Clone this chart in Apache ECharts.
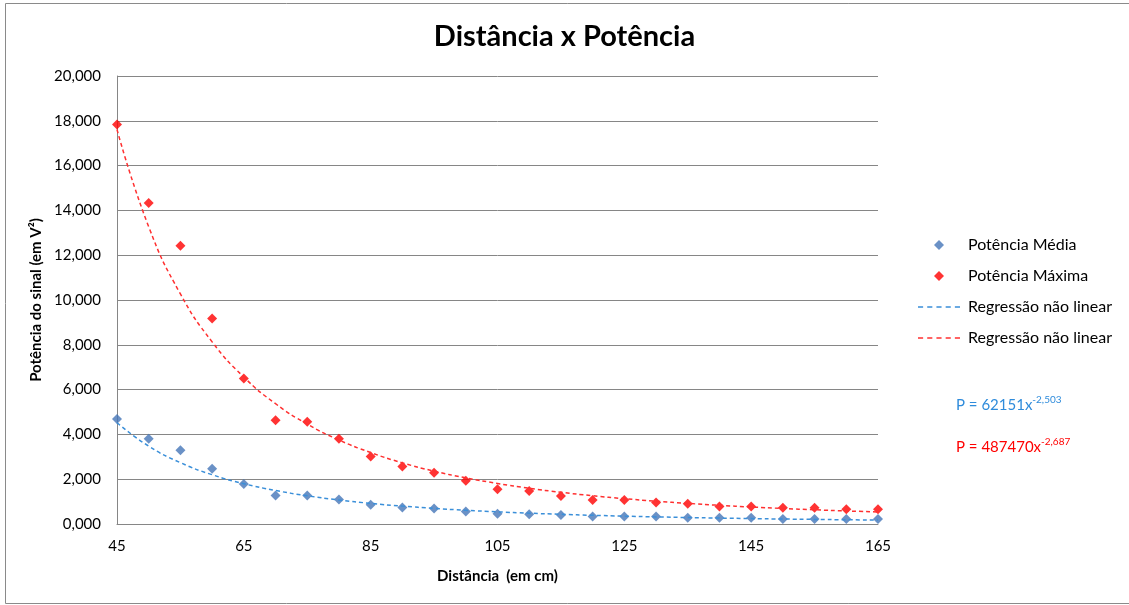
<!DOCTYPE html>
<html>
<head>
<meta charset="utf-8">
<script src="https://cdn.jsdelivr.net/npm/echarts@6/dist/echarts.min.js"></script>
<style>html,body{margin:0;padding:0;background:#fff;}#c{width:1129px;height:605px;}</style>
</head>
<body>
<div id="c"></div>
<script>
// Data
const distances = [45,50,55,60,65,70,75,80,85,90,95,100,105,110,115,120,125,130,135,140,145,150,155,160,165];
const potenciaMedia = [4690,3810,3290,2470,1790,1270,1270,1090,860,740,690,560,460,440,400,340,340,340,280,280,280,220,220,220,220];
const potenciaMaxima = [17830,14330,12420,9170,6490,4630,4570,3810,3010,2570,2290,1930,1550,1470,1250,1070,1070,960,900,780,780,720,720,660,660];
// Trend-line values as drawn (P = 62151x^-2,503 and P = 487470x^-2,687)
const trendMedia = [4520,3475,2740,2200,1800,1497,1259,1072,921,798,697,613,542,483,432,388,351,318,289,264,242,222,205,189,175];
const trendMaxima = [17610,13270,10270,8130,6560,5370,4460,3750,3190,2730,2360,2060,1810,1595,1415,1262,1131,1018,920,834,759,693,635,583,537];
const yTicks = {min:0, max:20000, interval:2000};
const xTicks = {min:45, max:165, interval:20};

const pair = (xs, ys) => xs.map((x,i)=>[x, ys[i]]);
const font = 'Lato, "Open Sans", sans-serif';
const diamondIcon = 'path://M5,0L10,5L5,10L0,5Z';
const dashIcon = 'path://M0,0h5v1.5h-5zM9,0h5v1.5h-5zM18,0h5v1.5h-5zM27,0h5v1.5h-5zM36,0h5v1.5h-5z';

const chart = echarts.init(document.getElementById('c'), null, {renderer:'canvas'});
chart.setOption({
  backgroundColor:'#ffffff',
  animation:false,
  textStyle:{fontFamily:font},
  title:{
    text:'Distância x Potência',
    left:'center', top:17,
    textStyle:{fontFamily:font, fontSize:29, fontWeight:'bold', color:'#000'}
  },
  grid:{left:117, right:251, top:76, bottom:81, containLabel:false},
  xAxis:{
    type:'value', min:xTicks.min, max:xTicks.max, interval:xTicks.interval,
    name:'Distância  (em cm)', nameLocation:'middle', nameGap:45,
    nameTextStyle:{fontFamily:font, fontSize:15, fontWeight:'bold', color:'#000'},
    axisLine:{show:true, lineStyle:{color:'#868686', width:1}},
    axisTick:{show:false},
    axisLabel:{margin:15, fontSize:15, color:'#000', fontFamily:font},
    splitLine:{show:false}
  },
  yAxis:{
    type:'value', min:yTicks.min, max:yTicks.max, interval:yTicks.interval,
    name:'Potência do sinal (em V²)', nameLocation:'middle', nameGap:67,
    nameTextStyle:{fontFamily:font, fontSize:15, fontWeight:'bold', color:'#000'},
    axisLine:{show:true, lineStyle:{color:'#868686', width:1}},
    axisTick:{show:false},
    axisLabel:{margin:16, fontSize:15, color:'#000', fontFamily:font,
      formatter:v=>(v/1000).toFixed(3).replace('.',',')},
    splitLine:{show:true, lineStyle:{color:'#868686', width:1}}
  },
  legend:{
    orient:'vertical', left:913, top:232, itemWidth:42, itemHeight:10, itemGap:15,
    symbolKeepAspect:true,
    textStyle:{fontFamily:font, fontSize:16, color:'#000', padding:[0,0,0,3]},
    formatter:n=>n.trim(),
    data:[
      {name:'Potência Média', icon:diamondIcon},
      {name:'Potência Máxima', icon:diamondIcon},
      {name:'Regressão não linear', icon:dashIcon},
      {name:'Regressão não linear ', icon:dashIcon}
    ]
  },
  series:[
    {name:'Potência Média', type:'scatter', symbol:'diamond', symbolSize:10,
     itemStyle:{color:'#4576B8'}, data:pair(distances, potenciaMedia), z:3},
    {name:'Potência Máxima', type:'scatter', symbol:'diamond', symbolSize:10,
     itemStyle:{color:'#FF0000'}, data:pair(distances, potenciaMaxima), z:3},
    {name:'Regressão não linear', type:'line', smooth:0.5, symbol:'none',
     lineStyle:{color:'#3A8FD9', width:1.5, type:[4,3]}, itemStyle:{color:'#3A8FD9'},
     data:pair(distances, trendMedia), z:4},
    {name:'Regressão não linear ', type:'line', smooth:0.5, symbol:'none',
     lineStyle:{color:'#FF3030', width:1.5, type:[4,3]}, itemStyle:{color:'#FF3030'},
     data:pair(distances, trendMaxima), z:4}
  ],
  graphic:[
    {type:'rect', shape:{x:5.5, y:3.5, width:1130, height:600}, style:{fill:'none', stroke:'#8a8a8a', lineWidth:1}, silent:true, z:-10},
    {type:'text', left:956, top:395, style:{
      text:'{a|P = 62151x}{s|-2,503}',
      rich:{a:{fontFamily:font, fontSize:15, fill:'#2E8BDB'}, s:{fontFamily:font, fontSize:10, fill:'#2E8BDB', padding:[0,0,10,0]}}
    }},
    {type:'text', left:956, top:437, style:{
      text:'{a|P = 487470x}{s|-2,687}',
      rich:{a:{fontFamily:font, fontSize:15, fill:'#FF0000'}, s:{fontFamily:font, fontSize:10, fill:'#FF0000', padding:[0,0,10,0]}}
    }}
  ]
});
</script>
</body>
</html>
